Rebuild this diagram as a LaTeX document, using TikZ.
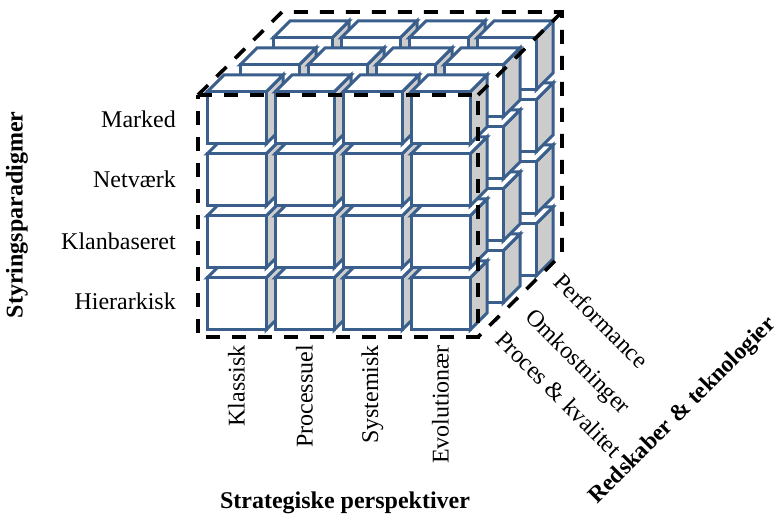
\documentclass[tikz,border=0pt]{standalone}
\usepackage{fontspec}
\setmainfont{Liberation Serif}
\definecolor{cubeblue}{HTML}{3A5F8C}
\definecolor{sidegray}{HTML}{CCCCCC}
\tikzset{
  cubeline/.style={draw=cubeblue, line width=3pt, line join=miter},
  outline/.style={draw=black, line width=3.6pt, dash pattern=on 14pt off 12pt},
  lab/.style={inner sep=0pt, font=\fontsize{24}{28}\selectfont},
  boldlab/.style={inner sep=0pt, font=\fontsize{24}{28}\selectfont\bfseries},
  rowlab/.style={lab, anchor=base east},
  collab/.style={lab, rotate=90, anchor=east},
  depthlab/.style={lab, rotate=-45, anchor=base west}
}
\begin{document}
\begin{tikzpicture}[x=1pt,y=-1pt]
\useasboundingbox (0,0) rectangle (776,518);
\def\W{59}\def\H{52}\def\D{17}
\foreach \l in {2,1,0}{
  \foreach \r in {3,2,1,0}{
    \foreach \c in {0,1,2,3}{
      \pgfmathsetmacro\X{207+68*\c+33*\l}
      \pgfmathsetmacro\Y{92+62*\r-27*\l}
      \draw[cubeline, fill=sidegray] (\X+\W,\Y) -- ++(\D,-\D) -- ++(0,\H) -- ++(-\D,\D) -- cycle;
      \draw[cubeline, fill=white] (\X,\Y) -- ++(\D,-\D) -- ++(\W,0) -- ++(-\D,\D) -- cycle;
      \draw[cubeline, fill=white] (\X,\Y) rectangle ++(\W,\H);
    }
  }
}
% dashed outline
\coordinate (ftl) at (198,95);
\coordinate (ftr) at (478,95);
\coordinate (fbr) at (478,337);
\coordinate (fbl) at (198,337);
\coordinate (btl) at (282,12);
\coordinate (btr) at (562,12);
\coordinate (bbr) at (562,254);
\draw[outline] (ftl) -- (ftr) -- (fbr) -- (fbl) -- cycle;
\draw[outline] (ftl) -- (btl) -- (btr) -- (bbr) -- (fbr);
\draw[outline] (ftr) -- (btr);
% row labels
\node[rowlab] (marked) at (176,128) {Marked};
\node[rowlab] (netvaerk) at (176,188) {Netværk};
\node[rowlab] (klan) at (176,249.5) {Klanbaseret};
\node[rowlab] (hier) at (176,310) {Hierarkisk};
% column labels
\node[collab] (klassisk) at (236.5,345) {Klassisk};
\node[collab] (proc) at (304.5,345) {Processuel};
\node[collab] (syst) at (372.5,345) {Systemisk};
\node[collab] (evol) at (440.5,345) {Evolutionær};
% depth labels
\node[depthlab] (pk) at (494,341) {Proces \& kvalitet};
\node[depthlab] (omk) at (524,318) {Omkostninger};
\node[depthlab] (perf) at (552,283) {Performance};
% axis titles
\node[boldlab, rotate=90] (styr) at (17,215) {Styringsparadigmer};
\node[boldlab] (strat) at (345,503) {Strategiske perspektiver};
\node[boldlab, rotate=45, font=\fontsize{23.5}{28}\selectfont\bfseries] (reds) at (683,411) {Redskaber \& teknologier};
\end{tikzpicture}
\end{document}
